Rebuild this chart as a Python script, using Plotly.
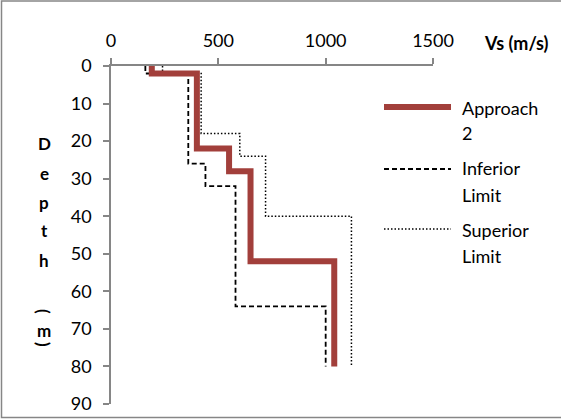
import plotly.graph_objects as go

# Shear-wave velocity profiles: each layer has a top depth, bottom depth and Vs
approach_top = [0, 2, 22, 28, 52]
approach_bot = [2, 22, 28, 52, 80]
approach_vs = [190, 400, 550, 650, 1040]

inferior_top = [0, 2, 26, 32, 64]
inferior_bot = [2, 26, 32, 64, 80]
inferior_vs = [160, 360, 440, 580, 1000]

superior_top = [0, 2, 18, 24, 40]
superior_bot = [2, 18, 24, 40, 80]
superior_vs = [240, 420, 600, 720, 1120]

x_ticks = [0, 500, 1000, 1500]
y_ticks = [0, 10, 20, 30, 40, 50, 60, 70, 80, 90]

RED = "#A23F3B"
GRAY = "#868686"
FONT = "Lato, 'Open Sans', sans-serif"

W_PX, H_PX = 561, 419
ML, MR, MT, MB = 111, 128, 66, 15
PW = W_PX - ML - MR
PH = H_PX - MT - MB


def px(x):
    return (x - ML) / PW


def py(y):
    return 1 - (y - MT) / PH


def step_profile(tops, bots, vs):
    xs, ys = [], []
    for t, b, v in zip(tops, bots, vs):
        xs += [v, v]
        ys += [t, b]
    return xs, ys


fig = go.Figure()

for tops, bots, vs, color, width, dash in [
    (superior_top, superior_bot, superior_vs, "black", 1.5, "1.5px,2px"),
    (inferior_top, inferior_bot, inferior_vs, "black", 1.8, "5px,3px"),
    (approach_top, approach_bot, approach_vs, RED, 6, "solid"),
]:
    xs, ys = step_profile(tops, bots, vs)
    fig.add_trace(go.Scatter(
        x=xs, y=ys, mode="lines",
        line=dict(color=color, width=width, dash=dash),
        showlegend=False, hoverinfo="skip",
    ))

fig.update_xaxes(
    range=[0, 1500], side="top", tickvals=x_ticks,
    ticks="outside", ticklen=6, tickcolor=GRAY, tickwidth=1.5,
    showline=True, linecolor=GRAY, linewidth=1.5,
    showgrid=False, zeroline=False, automargin=False,
    tickfont=dict(family=FONT, size=18, color="black"),
    ticklabelstandoff=4,
)
fig.update_yaxes(
    range=[90, 0], tickvals=y_ticks,
    ticks="outside", ticklen=6, tickcolor=GRAY, tickwidth=1.5,
    showline=True, linecolor=GRAY, linewidth=1.5,
    showgrid=False, zeroline=False, automargin=False,
    tickfont=dict(family=FONT, size=18, color="black"),
    ticklabelstandoff=8,
)

shapes = [
    # chart border
    dict(type="rect", xref="paper", yref="paper",
         x0=px(1.5), x1=px(575), y0=py(1), y1=py(417.5),
         line=dict(color=GRAY, width=1.5), layer="below"),
]
annotations = []

# Legend drawn as line samples with wrapped labels
legend_items = [
    (107, dict(color=RED, width=6, dash="solid"), [("Approach", 108), ("2", 133)]),
    (169, dict(color="black", width=1.8, dash="5px,3px"), [("Inferior", 168), ("Limit", 195)]),
    (229, dict(color="black", width=1.5, dash="1.5px,2px"), [("Superior", 230), ("Limit", 256)]),
]
for ly, line, labels in legend_items:
    shapes.append(dict(type="line", xref="paper", yref="paper",
                       x0=px(384), x1=px(451), y0=py(ly), y1=py(ly), line=line))
    for text, ty in labels:
        annotations.append(dict(
            text=text, xref="paper", yref="paper", x=px(460), y=py(ty),
            xanchor="left", yanchor="middle", showarrow=False,
            font=dict(family=FONT, size=18, color="black"),
        ))

# Axis titles
annotations.append(dict(
    text="<b>Vs (m/s)</b>", xref="paper", yref="paper", x=px(516), y=py(43),
    xanchor="center", yanchor="middle", showarrow=False,
    font=dict(family=FONT, size=18, color="black"),
))
for ch, cy, ang in [("D", 143, 0), ("e", 173, 0), ("p", 202, 0), ("t", 231, 0),
                    ("h", 260, 0), ("(", 311, 90), ("m", 330, 0), (")", 344, 90)]:
    annotations.append(dict(
        text=f"<b>{ch}</b>", xref="paper", yref="paper", x=px(44), y=py(cy),
        xanchor="center", yanchor="middle", showarrow=False, textangle=ang,
        font=dict(family=FONT, size=17, color="black"),
    ))

fig.update_layout(
    width=W_PX, height=H_PX,
    margin=dict(l=ML, r=MR, t=MT, b=MB),
    paper_bgcolor="white", plot_bgcolor="white",
    shapes=shapes, annotations=annotations,
    showlegend=False,
)

fig.write_html("out.html")
